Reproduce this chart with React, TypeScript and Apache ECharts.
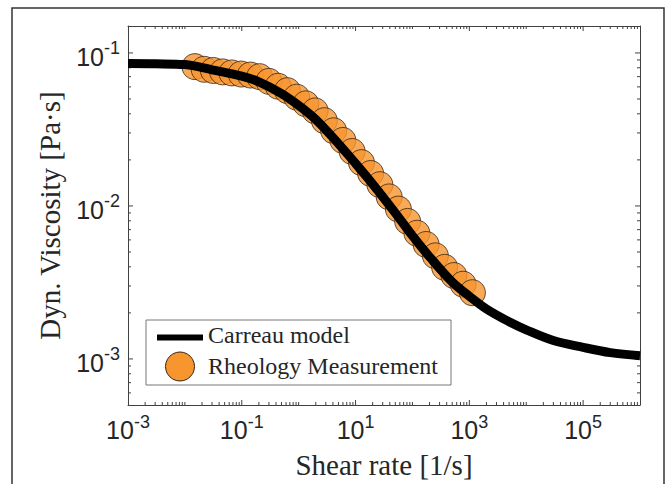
import React, { useEffect, useRef } from 'react';
import * as echarts from 'echarts';

// Carreau model curve
const CURVE_X = [1e-3, 3e-3, 1e-2, 3e-2, 0.1, 0.2, 0.5, 1, 2, 5, 10, 20, 50, 100, 200, 500, 1e3, 2e3, 5e3, 1e4, 3e4, 1e5, 3e5, 1e6];
const CURVE_Y = [0.0852, 0.0849, 0.0839, 0.0776, 0.0705, 0.0648, 0.0543, 0.0454, 0.0367, 0.0255, 0.01895, 0.0139, 0.009, 0.00638, 0.00465, 0.00318, 0.00257, 0.00212, 0.00175, 0.00155, 0.00132, 0.00119, 0.0011, 0.00105];

const DATA_X = [0.015, 0.0218, 0.0317, 0.0461, 0.067, 0.0975, 0.142, 0.206, 0.3, 0.436, 0.634, 0.922, 1.34, 1.95, 2.83, 4.12, 5.99, 8.71, 12.7, 18.4, 26.8, 39.0, 56.6, 82.4, 120, 174, 253, 368, 536, 778, 1132];
const DATA_Y = [0.0814, 0.0782, 0.0768, 0.0752, 0.074, 0.0728, 0.0717, 0.07, 0.0652, 0.0606, 0.0567, 0.0514, 0.0465, 0.0418, 0.0361, 0.031, 0.0268, 0.0227, 0.0192, 0.0163, 0.01377, 0.01146, 0.00954, 0.00792, 0.00663, 0.0056, 0.00472, 0.00397, 0.00351, 0.00308, 0.00271];

// Axes
const X_MIN = 1e-3;
const X_MAX = 1e6;
const Y_MIN = 5e-4;
const Y_MAX = 0.15;
const X_LABEL_EXPONENTS = [-3, -1, 1, 3, 5];
const Y_LABEL_EXPONENTS = [-3, -2, -1];
const X_DECADES = [-3, -2, -1, 0, 1, 2, 3, 4, 5];
const Y_DECADES = [-4, -3, -2, -1];
const MINOR_MULTIPLIERS = [2, 3, 4, 5, 6, 7, 8, 9];

const X_TITLE = 'Shear rate [1/s]';
const Y_TITLE = 'Dyn. Viscosity [Pa·s]';
const LEGEND_LINE = 'Carreau model';
const LEGEND_POINTS = 'Rheology Measurement';

const AXIS_COLOR = '#404040';
const TEXT_COLOR = '#262626';
const ORANGE = '#F7952F';
const EDGE = '#3a2510';
const SERIF = '"Liberation Serif", "Times New Roman", serif';
const SANS = '"Liberation Sans", Arial, Helvetica, sans-serif';

const MAJOR_LEN = 5;
const MINOR_LEN = 3;

function buildTicks(decades: number[], labelExps: number[], lo: number, hi: number) {
  const out: { v: number; len: number }[] = [];
  decades.forEach((d) => {
    const base = Math.pow(10, d);
    if (base > lo * 1.0001 && base < hi * 0.9999) {
      out.push({ v: base, len: labelExps.indexOf(d) >= 0 ? MAJOR_LEN : MINOR_LEN });
    }
    MINOR_MULTIPLIERS.forEach((m) => {
      const v = m * base;
      if (v > lo * 1.0001 && v < hi * 0.9999) out.push({ v, len: MINOR_LEN });
    });
  });
  return out;
}

function powLabel(v: number, exps: number[]) {
  const l = Math.log10(v);
  const e = Math.round(l);
  if (Math.abs(l - e) > 1e-6) return '';
  if (exps.indexOf(e) < 0) return '';
  return `{b|10}{s|${e}}`;
}

const labelRich = {
  b: { fontFamily: SANS, fontSize: 25, color: TEXT_COLOR, lineHeight: 26, padding: [8, 0, 0, 0] },
  s: { fontFamily: SANS, fontSize: 18, color: TEXT_COLOR, lineHeight: 26, padding: [0, 0, 9, 0] },
};

export default function App() {
  const ref = useRef<HTMLDivElement>(null);

  useEffect(() => {
    document.body.style.margin = '0';
    if (!ref.current) return;
    const chart = echarts.init(ref.current, undefined, { renderer: 'svg' });

    const xTicks = buildTicks(X_DECADES, X_LABEL_EXPONENTS, X_MIN, X_MAX);
    const yTicks = buildTicks(Y_DECADES, Y_LABEL_EXPONENTS, Y_MIN, Y_MAX);

    const baseX = {
      type: 'log' as const,
      logBase: 10,
      min: X_MIN,
      max: X_MAX,
      axisLine: { show: true, lineStyle: { color: AXIS_COLOR, width: 1 } },
      axisTick: { show: false },
      splitLine: { show: false },
    };
    const baseY = {
      type: 'log' as const,
      logBase: 10,
      min: Y_MIN,
      max: Y_MAX,
      axisLine: { show: true, lineStyle: { color: AXIS_COLOR, width: 1 } },
      axisTick: { show: false },
      splitLine: { show: false },
    };

    chart.setOption({
      animation: false,
      backgroundColor: '#ffffff',
      grid: { left: 128, right: 28, top: 26, bottom: 78, containLabel: false },
      xAxis: [
        {
          ...baseX,
          position: 'bottom',
          name: X_TITLE,
          nameLocation: 'middle',
          nameGap: 45,
          nameTextStyle: { fontFamily: SERIF, fontSize: 29, color: TEXT_COLOR },
          axisLabel: {
            show: true,
            margin: 8,
            formatter: (v: number) => powLabel(v, X_LABEL_EXPONENTS),
            rich: labelRich,
          },
        },
        { ...baseX, position: 'top', axisLabel: { show: false } },
      ],
      yAxis: [
        {
          ...baseY,
          position: 'left',
          name: Y_TITLE,
          nameLocation: 'middle',
          nameGap: 64,
          nameRotate: 90,
          nameTextStyle: { fontFamily: SERIF, fontSize: 29, color: TEXT_COLOR },
          axisLabel: {
            show: true,
            margin: 8,
            formatter: (v: number) => powLabel(v, Y_LABEL_EXPONENTS),
            rich: labelRich,
          },
        },
        { ...baseY, position: 'right', axisLabel: { show: false } },
      ],
      series: [
        {
          type: 'custom',
          name: 'x-ticks',
          silent: true,
          z: 1,
          xAxisIndex: 0,
          yAxisIndex: 0,
          data: xTicks.map((t) => [t.v, Y_MIN, t.len]),
          encode: { x: 0, y: 1 },
          renderItem: (params: any, api: any) => {
            const x = api.coord([api.value(0), Y_MIN])[0];
            const len = api.value(2);
            const cs = params.coordSys;
            const top = cs.y;
            const bot = cs.y + cs.height;
            return {
              type: 'group',
              children: [
                { type: 'line', shape: { x1: x, y1: bot, x2: x, y2: bot - len }, style: { stroke: AXIS_COLOR, lineWidth: 1 } },
                { type: 'line', shape: { x1: x, y1: top, x2: x, y2: top + len }, style: { stroke: AXIS_COLOR, lineWidth: 1 } },
              ],
            };
          },
        },
        {
          type: 'custom',
          name: 'y-ticks',
          silent: true,
          z: 1,
          xAxisIndex: 0,
          yAxisIndex: 0,
          data: yTicks.map((t) => [X_MIN, t.v, t.len]),
          encode: { x: 0, y: 1 },
          renderItem: (params: any, api: any) => {
            const y = api.coord([X_MIN, api.value(1)])[1];
            const len = api.value(2);
            const cs = params.coordSys;
            const left = cs.x;
            const right = cs.x + cs.width;
            return {
              type: 'group',
              children: [
                { type: 'line', shape: { x1: left, y1: y, x2: left + len, y2: y }, style: { stroke: AXIS_COLOR, lineWidth: 1 } },
                { type: 'line', shape: { x1: right, y1: y, x2: right - len, y2: y }, style: { stroke: AXIS_COLOR, lineWidth: 1 } },
              ],
            };
          },
        },
        {
          type: 'scatter',
          name: LEGEND_POINTS,
          z: 2,
          symbol: 'circle',
          symbolSize: 26,
          itemStyle: { color: ORANGE, borderColor: EDGE, borderWidth: 1 },
          data: DATA_X.map((x, i) => [x, DATA_Y[i]]),
        },
        {
          type: 'line',
          name: LEGEND_LINE,
          z: 3,
          smooth: 0.35,
          showSymbol: false,
          symbol: 'none',
          lineStyle: { color: '#000000', width: 9 },
          data: CURVE_X.map((x, i) => [x, CURVE_Y[i]]),
        },
      ],
      graphic: [
        {
          type: 'rect',
          silent: true,
          z: 0,
          shape: { x: 12, y: 8, width: 652, height: 500 },
          style: { fill: 'none', stroke: '#333333', lineWidth: 1.5 },
        },
        {
          type: 'group',
          z: 100,
          children: [
            {
              type: 'rect',
              shape: { x: 146, y: 320, width: 305, height: 65 },
              style: { fill: '#ffffff', stroke: '#777777', lineWidth: 1 },
            },
            {
              type: 'line',
              shape: { x1: 157, y1: 337.5, x2: 203, y2: 337.5 },
              style: { stroke: '#000000', lineWidth: 6 },
            },
            {
              type: 'text',
              x: 208,
              y: 335,
              style: { text: LEGEND_LINE, fontFamily: SERIF, fontSize: 24, fill: TEXT_COLOR, verticalAlign: 'middle', align: 'left' },
            },
            {
              type: 'circle',
              shape: { cx: 180, cy: 366.5, r: 14.5 },
              style: { fill: ORANGE, stroke: EDGE, lineWidth: 1 },
            },
            {
              type: 'text',
              x: 208,
              y: 366,
              style: { text: LEGEND_POINTS, fontFamily: SERIF, fontSize: 24, fill: TEXT_COLOR, verticalAlign: 'middle', align: 'left' },
            },
          ],
        },
      ],
    });

    return () => chart.dispose();
  }, []);

  return <div ref={ref} style={{ width: 668, height: 484 }} />;
}
